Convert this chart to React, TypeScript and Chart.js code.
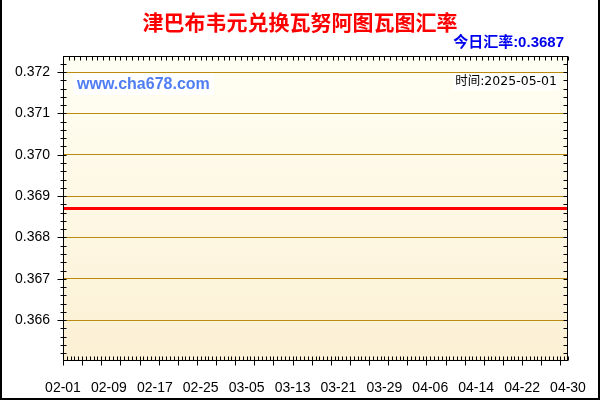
import { useEffect, useRef } from "react"
import { Chart, registerables } from "chart.js"

Chart.register(...registerables)

// 日期（2025-02-01 ~ 2025-04-30）
const dates = [
  "02-01", "02-02", "02-03", "02-04", "02-05", "02-06", "02-07", "02-08", "02-09", "02-10",
  "02-11", "02-12", "02-13", "02-14", "02-15", "02-16", "02-17", "02-18", "02-19", "02-20",
  "02-21", "02-22", "02-23", "02-24", "02-25", "02-26", "02-27", "02-28",
  "03-01", "03-02", "03-03", "03-04", "03-05", "03-06", "03-07", "03-08", "03-09", "03-10",
  "03-11", "03-12", "03-13", "03-14", "03-15", "03-16", "03-17", "03-18", "03-19", "03-20",
  "03-21", "03-22", "03-23", "03-24", "03-25", "03-26", "03-27", "03-28", "03-29", "03-30",
  "03-31",
  "04-01", "04-02", "04-03", "04-04", "04-05", "04-06", "04-07", "04-08", "04-09", "04-10",
  "04-11", "04-12", "04-13", "04-14", "04-15", "04-16", "04-17", "04-18", "04-19", "04-20",
  "04-21", "04-22", "04-23", "04-24", "04-25", "04-26", "04-27", "04-28", "04-29", "04-30",
]

// 汇率
const rates = [
  0.3687, 0.3687, 0.3687, 0.3687, 0.3687, 0.3687, 0.3687, 0.3687, 0.3687, 0.3687,
  0.3687, 0.3687, 0.3687, 0.3687, 0.3687, 0.3687, 0.3687, 0.3687, 0.3687, 0.3687,
  0.3687, 0.3687, 0.3687, 0.3687, 0.3687, 0.3687, 0.3687, 0.3687,
  0.3687, 0.3687, 0.3687, 0.3687, 0.3687, 0.3687, 0.3687, 0.3687, 0.3687, 0.3687,
  0.3687, 0.3687, 0.3687, 0.3687, 0.3687, 0.3687, 0.3687, 0.3687, 0.3687, 0.3687,
  0.3687, 0.3687, 0.3687, 0.3687, 0.3687, 0.3687, 0.3687, 0.3687, 0.3687, 0.3687,
  0.3687,
  0.3687, 0.3687, 0.3687, 0.3687, 0.3687, 0.3687, 0.3687, 0.3687, 0.3687, 0.3687,
  0.3687, 0.3687, 0.3687, 0.3687, 0.3687, 0.3687, 0.3687, 0.3687, 0.3687, 0.3687,
  0.3687, 0.3687, 0.3687, 0.3687, 0.3687, 0.3687, 0.3687, 0.3687, 0.3687, 0.3687,
]

const xTickLabels = [
  "02-01", "02-09", "02-17", "02-25", "03-05", "03-13",
  "03-21", "03-29", "04-06", "04-14", "04-22", "04-30",
]
const yTicks = [0.366, 0.367, 0.368, 0.369, 0.37, 0.371, 0.372]
const yMin = 0.365013
const yMax = 0.372387

const titleText = "津巴布韦元兑换瓦努阿图瓦图汇率"
const todayText = "今日汇率:0.3687"
const siteText = "www.cha678.com"
const timeText = "时间:2025-05-01"

const sansFont = "'Liberation Sans', Arial, sans-serif"

// 背景渐变、边框、刻度线和文字
const framePlugin = {
  id: "frame",
  beforeDraw(chart: any) {
    const { ctx, chartArea: a } = chart
    const g = ctx.createLinearGradient(0, a.top, 0, a.bottom)
    g.addColorStop(0, "#fffff4")
    g.addColorStop(1, "#fcf0d4")
    ctx.save()
    ctx.fillStyle = g
    ctx.fillRect(a.left, a.top, a.right - a.left, a.bottom - a.top)
    ctx.restore()
  },
  afterDraw(chart: any) {
    const { ctx, chartArea: a } = chart
    const xs = chart.scales.x
    const ys = chart.scales.y
    const L = Math.round(a.left) + 0.5
    const R = Math.round(a.right) - 0.5
    const T = Math.round(a.top) + 0.5
    const B = Math.round(a.bottom) - 0.5

    ctx.save()
    ctx.strokeStyle = "#000"
    ctx.lineWidth = 1
    ctx.beginPath()
    // 左、右刻度
    const first = Math.ceil(yMin / 0.0002)
    const last = Math.floor(yMax / 0.0002)
    for (let i = first; i <= last; i++) {
      const y = Math.round(ys.getPixelForValue(i * 0.0002)) + 0.5
      const major = i % 5 === 0
      ctx.moveTo(major ? L - 6 : L - 3, y)
      ctx.lineTo(L + 3, y)
      ctx.moveTo(R - 4, y)
      ctx.lineTo(R, y)
    }
    // 上刻度
    for (let d = 0; d < dates.length; d++) {
      const x = Math.round(xs.getPixelForValue(d)) + 0.5
      ctx.moveTo(x, T)
      ctx.lineTo(x, T + 4)
    }
    // 下刻度
    const steps = Math.round(((dates.length - 1) * 3) / 2)
    for (let k = 0; k <= steps; k++) {
      const x = Math.round(xs.getPixelForValue((k * 2) / 3)) + 0.5
      const major = k % 5 === 0
      ctx.moveTo(x, B - 4)
      ctx.lineTo(x, major ? B + 5 : B)
    }
    ctx.stroke()
    ctx.strokeRect(L, T, R - L, B - T)

    // 外框
    ctx.fillStyle = "#000"
    ctx.fillRect(0, 0, 2, 400)
    ctx.fillRect(598, 0, 2, 400)
    ctx.fillRect(0, 398, 600, 2)

    // 标题
    ctx.textBaseline = "middle"
    ctx.textAlign = "center"
    ctx.fillStyle = "#ff0000"
    ctx.font = "bold 21px 'Noto Sans CJK SC', sans-serif"
    ctx.fillText(titleText, 300, 22)

    ctx.textAlign = "right"
    ctx.fillStyle = "#0000ee"
    ctx.font = `bold 15px ${sansFont.replace("sans-serif", "'Noto Sans CJK SC'")}`
    ctx.fillText(todayText, 564, 43)

    // 网址水印
    ctx.font = `bold 16px ${sansFont}`
    const sw = ctx.measureText(siteText).width
    ctx.fillStyle = "#ffffff"
    ctx.fillRect(73, 74, sw + 8, 21)
    ctx.textAlign = "left"
    ctx.fillStyle = "#4f7df2"
    ctx.fillText(siteText, 77, 85)

    // 时间
    ctx.font = "12.5px 'DejaVu Sans', 'Noto Sans CJK SC', sans-serif"
    const tw = ctx.measureText(timeText).width
    ctx.fillStyle = "#ffffff"
    ctx.fillRect(557 - tw - 2, 74, tw + 4, 16)
    ctx.textAlign = "right"
    ctx.fillStyle = "#000"
    ctx.fillText(timeText, 557, 82)
    ctx.restore()
  },
}

export default function App() {
  const chartRef = useRef<HTMLCanvasElement>(null)
  const chartInstance = useRef<Chart | null>(null)

  useEffect(() => {
    if (!chartRef.current) return
    if (chartInstance.current) chartInstance.current.destroy()
    const ctx = chartRef.current.getContext("2d")
    if (!ctx) return

    chartInstance.current = new Chart(ctx, {
      type: "line",
      data: {
        labels: dates,
        datasets: [
          {
            data: rates,
            borderColor: "#ff0000",
            borderWidth: 3,
            pointRadius: 0,
            tension: 0,
            fill: false,
          },
        ],
      },
      options: {
        animation: false,
        responsive: true,
        maintainAspectRatio: false,
        events: [],
        layout: { padding: { top: 56, right: 32, left: 0, bottom: 0 } },
        plugins: {
          legend: { display: false },
          tooltip: { enabled: false },
          title: { display: false },
        },
        scales: {
          x: {
            offset: false,
            grid: { display: false },
            border: { display: false },
            afterBuildTicks: (scale: any) => {
              scale.ticks = scale.ticks.filter((t: any) => xTickLabels.includes(dates[t.value]))
            },
            afterFit: (scale: any) => {
              scale.height = 39
            },
            ticks: {
              autoSkip: false,
              maxRotation: 0,
              padding: 11,
              color: "#000",
              font: { family: sansFont, size: 14 },
            },
          },
          y: {
            min: yMin,
            max: yMax,
            grid: { color: "#bb8a10", drawTicks: false },
            border: { display: false },
            afterBuildTicks: (scale: any) => {
              scale.ticks = yTicks.map((v) => ({ value: v }))
            },
            afterFit: (scale: any) => {
              scale.width = 63
            },
            ticks: {
              padding: 13,
              color: "#000",
              font: { family: sansFont, size: 14 },
              callback: (value: any) => Number(value).toFixed(3),
            },
          },
        },
      },
      plugins: [framePlugin],
    })

    return () => {
      if (chartInstance.current) {
        chartInstance.current.destroy()
        chartInstance.current = null
      }
    }
  }, [])

  return (
    <div style={{ position: "absolute", left: 0, top: 0, width: 600, height: 400, background: "#fff" }}>
      <canvas ref={chartRef} />
    </div>
  )
}
